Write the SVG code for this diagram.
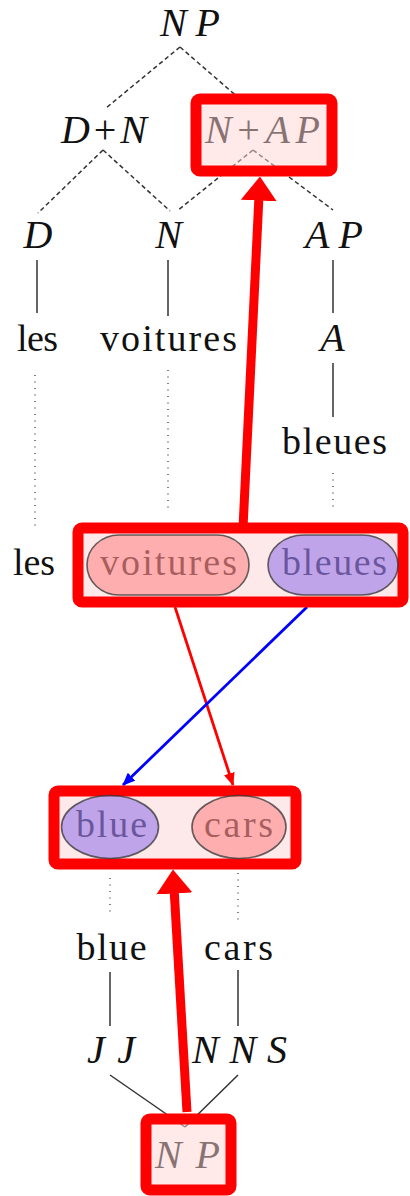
<svg xmlns="http://www.w3.org/2000/svg" width="410" height="1196" viewBox="0 0 410 1196">
<defs>
<style>
.t{font-family:"Liberation Serif","Times New Roman",serif;font-size:38px;fill:#111;text-anchor:middle}
.i{font-style:italic;font-size:40px}
.u{font-style:normal}
.dash{stroke:#333;stroke-width:1.5;stroke-dasharray:4.5 3;fill:none}
.solid{stroke:#333;stroke-width:1.5;fill:none}
.dot{stroke:#555;stroke-width:1.5;stroke-dasharray:1 5.5;fill:none}
.hl{fill:#ffd4d4;fill-opacity:0.5;stroke:#ff0000;stroke-width:11}
.hlbg{fill:#fde9e9;stroke:#ff0000;stroke-width:11}
.redbub{fill:#ff8c8c;fill-opacity:0.63;stroke:#333;stroke-opacity:0.75;stroke-width:1.6}
.bluebub{fill:#9c7dea;fill-opacity:0.64;stroke:#333;stroke-opacity:0.75;stroke-width:1.6}
.big{stroke:#ff0000;stroke-width:9;fill:none}
</style>
<marker id="bighead" markerUnits="userSpaceOnUse" viewBox="0 0 24 36" markerWidth="24" markerHeight="36" refX="0.5" refY="18" orient="auto"><path d="M0,0 L24,18 L0,36 z" fill="#ff0000"/></marker>
<marker id="redhead" markerUnits="userSpaceOnUse" viewBox="0 0 13 11" markerWidth="13" markerHeight="11" refX="12" refY="5.5" orient="auto"><path d="M0,0 L13,5.5 L0,11 z" fill="#ff0000"/></marker>
<marker id="bluehead" markerUnits="userSpaceOnUse" viewBox="0 0 13 11" markerWidth="13" markerHeight="11" refX="12" refY="5.5" orient="auto"><path d="M0,0 L13,5.5 L0,11 z" fill="#0000ff"/></marker>
</defs>
<rect width="410" height="1196" fill="#ffffff"/>
<g id="connectors">
<line class="dash" x1="180" y1="47" x2="106" y2="108"/>
<line class="dash" x1="180" y1="47" x2="248" y2="106"/>
<line class="dash" x1="103" y1="150" x2="38" y2="213"/>
<line class="dash" x1="103" y1="150" x2="170" y2="211"/>
<line class="dash" x1="253" y1="150" x2="177" y2="211"/>
<line class="dash" x1="253" y1="150" x2="333" y2="210"/>
<line class="solid" x1="37" y1="260" x2="37" y2="313"/>
<line class="solid" x1="168" y1="260" x2="168" y2="316"/>
<line class="solid" x1="333" y1="260" x2="333" y2="313"/>
<line class="solid" x1="333" y1="363" x2="333" y2="417"/>
<line class="dot" x1="35" y1="375" x2="35" y2="528"/>
<line class="dot" x1="168" y1="370" x2="168" y2="512"/>
<line class="dot" x1="333" y1="473" x2="333" y2="512"/>
<line class="dot" x1="110" y1="878" x2="110" y2="915"/>
<line class="dot" x1="238" y1="873" x2="238" y2="925"/>
<line class="solid" x1="110" y1="972" x2="110" y2="1026"/>
<line class="solid" x1="238" y1="970" x2="238" y2="1026"/>
<line class="solid" x1="110" y1="1075" x2="185" y2="1127"/>
<line class="solid" x1="238" y1="1075" x2="185" y2="1127"/>
<line x1="175" y1="607" x2="233" y2="785" stroke="#ff0000" stroke-width="2.8" marker-end="url(#redhead)"/>
<line x1="307" y1="607" x2="123" y2="785" stroke="#0000ff" stroke-width="2.8" marker-end="url(#bluehead)"/>
</g>
<g id="node-np-top"><text class="t i" x="190" y="36" textLength="60" lengthAdjust="spacing">NP</text></g>
<g id="node-dn"><text class="t i" x="104" y="143" textLength="86" lengthAdjust="spacing">D<tspan class="u">+</tspan>N</text></g>
<g id="node-d"><text class="t i" x="38" y="248">D</text></g>
<g id="node-n"><text class="t i" x="168.5" y="248">N</text></g>
<g id="node-ap"><text class="t i" x="334" y="248" textLength="58" lengthAdjust="spacing">AP</text></g>
<g id="node-les1"><text class="t" x="37.5" y="351" textLength="41" lengthAdjust="spacing">les</text></g>
<g id="node-voitures1"><text class="t" x="168.5" y="351" textLength="137" lengthAdjust="spacing">voitures</text></g>
<g id="node-a"><text class="t i" x="332.5" y="351">A</text></g>
<g id="node-bleues1"><text class="t" x="334.5" y="454" textLength="105" lengthAdjust="spacing">bleues</text></g>
<g id="node-les2"><text class="t" x="34" y="575" textLength="42" lengthAdjust="spacing">les</text></g>
<g id="node-blue2"><text class="t" x="111.5" y="960" textLength="70" lengthAdjust="spacing">blue</text></g>
<g id="node-cars2"><text class="t" x="238.5" y="960" textLength="69" lengthAdjust="spacing">cars</text></g>
<g id="node-jj"><text class="t i" x="111" y="1063" textLength="48" lengthAdjust="spacing">JJ</text></g>
<g id="node-nns"><text class="t i" x="239.5" y="1063" textLength="95" lengthAdjust="spacing">NNS</text></g>
<g id="node-nap">
<text class="t i" x="262.5" y="143" textLength="115" lengthAdjust="spacing">N<tspan class="u">+</tspan>AP</text>
<rect class="hl" x="196" y="99" width="136" height="72" rx="4"/>
</g>
<g id="node-french-box">
<rect class="hlbg" x="78" y="528" width="325" height="74" rx="4"/>
<text class="t" x="168.5" y="575" textLength="137" lengthAdjust="spacing">voitures</text>
<rect class="redbub" x="87" y="535" width="162" height="60" rx="32" ry="30"/>
<text class="t" x="334.5" y="575" textLength="105" lengthAdjust="spacing">bleues</text>
<rect class="bluebub" x="268" y="535" width="130" height="60" rx="36" ry="30"/>
</g>
<g id="node-english-box">
<rect class="hlbg" x="54" y="791" width="242" height="73" rx="4"/>
<text class="t" x="111.5" y="837" textLength="71" lengthAdjust="spacing">blue</text>
<ellipse class="bluebub" cx="110" cy="827" rx="48.5" ry="31.5"/>
<text class="t" x="238.5" y="837" textLength="69" lengthAdjust="spacing">cars</text>
<ellipse class="redbub" cx="239" cy="827" rx="47" ry="31.5"/>
</g>
<g id="node-np-bottom">
<text class="t i" x="187.5" y="1168" textLength="65" lengthAdjust="spacing">NP</text>
<rect class="hl" x="146" y="1119" width="85" height="71" rx="4"/>
</g>
<g id="big-arrows">
<line class="big" x1="243" y1="528" x2="258.8" y2="200" marker-end="url(#bighead)"/>
<line class="big" x1="187" y1="1112" x2="174.3" y2="893" marker-end="url(#bighead)"/>
</g>
</svg>
